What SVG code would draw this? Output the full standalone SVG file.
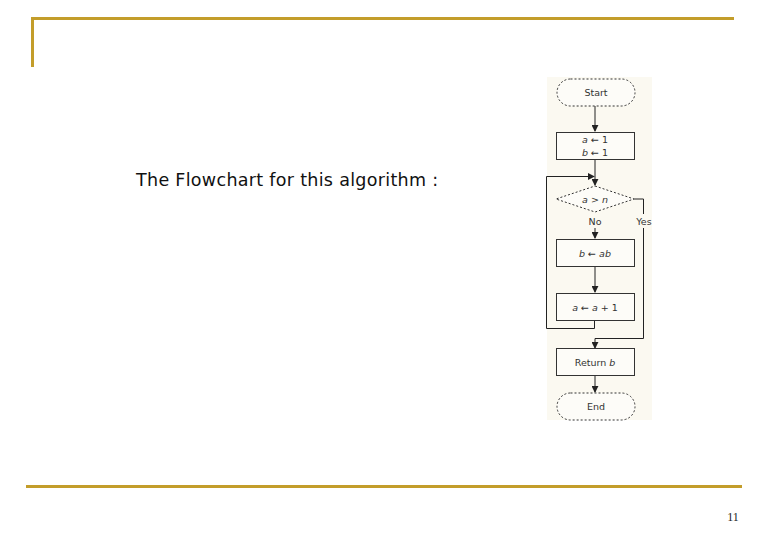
<svg xmlns="http://www.w3.org/2000/svg" width="780" height="540" viewBox="0 0 780 540">
<defs>
<marker id="ah" viewBox="0 0 8 8" refX="7" refY="4" markerWidth="7" markerHeight="7" markerUnits="userSpaceOnUse" orient="auto">
<path d="M0,0 L8,4 L0,8 Z" fill="#222"/>
</marker>
</defs>
<style>
.rule{stroke:#c39d2a;stroke-width:3;fill:none}
.box{fill:#fdfcf8;stroke:#333;stroke-width:1}
.term{fill:#fdfcf8;stroke:#333;stroke-width:1;stroke-dasharray:2 2}
.fc{font-family:"DejaVu Sans",Verdana,sans-serif;font-size:9.5px;fill:#333;text-anchor:middle}
.ln{stroke:#222;stroke-width:1;fill:none}
</style>
<rect width="780" height="540" fill="#ffffff"/>
<g id="frame">
<line class="rule" x1="31" y1="18.5" x2="734" y2="18.5"/>
<line class="rule" x1="32.5" y1="18" x2="32.5" y2="67"/>
<line class="rule" x1="26" y1="486.5" x2="742" y2="486.5"/>
</g>
<text x="136" y="186" font-family="'DejaVu Sans',Verdana,sans-serif" font-size="17.5" letter-spacing="0.3" fill="#111">The Flowchart for this algorithm :</text>
<text x="733" y="521" font-family="'Liberation Serif','Times New Roman',serif" font-size="12" fill="#222" text-anchor="middle">11</text>
<rect x="547" y="77" width="105" height="343" fill="#fbf9f1"/>
<g id="connectors">
<path class="ln" d="M595,106 V131" marker-end="url(#ah)"/>
<path class="ln" d="M595,159 V185" marker-end="url(#ah)"/>
<path class="ln" d="M595,228 V238" marker-end="url(#ah)"/>
<path class="ln" d="M595,266 V292" marker-end="url(#ah)"/>
<path class="ln" d="M594.5,321 V328.5 H546.5 V176.5 H594" marker-end="url(#ah)"/>
<path class="ln" d="M634,199 H643.5 V214"/>
<path class="ln" d="M643.5,228 V338.5 H595 V348" marker-end="url(#ah)"/>
<path class="ln" d="M595,375 V392" marker-end="url(#ah)"/>
<text class="fc" x="595" y="225">No</text>
<text class="fc" x="644" y="225">Yes</text>
</g>
<g id="start">
<rect class="term" x="557" y="79" width="78" height="27" rx="13.5"/>
<text class="fc" x="596" y="95.5">Start</text>
</g>
<g id="init">
<rect class="box" x="556.5" y="132.5" width="78" height="27"/>
<text class="fc" x="595" y="142.5"><tspan font-style="italic">a</tspan> ← 1</text>
<text class="fc" x="595" y="156"><tspan font-style="italic">b</tspan> ← 1</text>
</g>
<g id="decision">
<path class="term" d="M595,186 L634,199 L595,212 L556,199 Z"/>
<text class="fc" x="595" y="202.5"><tspan font-style="italic">a</tspan> &gt; <tspan font-style="italic">n</tspan></text>
</g>
<g id="mult">
<rect class="box" x="556.5" y="239.5" width="78" height="27"/>
<text class="fc" x="595" y="256.5"><tspan font-style="italic">b</tspan> ← <tspan font-style="italic">ab</tspan></text>
</g>
<g id="incr">
<rect class="box" x="556.5" y="293.5" width="78" height="27"/>
<text class="fc" x="595" y="310.5"><tspan font-style="italic">a</tspan> ← <tspan font-style="italic">a</tspan> + 1</text>
</g>
<g id="return">
<rect class="box" x="556.5" y="348.5" width="78" height="27"/>
<text class="fc" x="595" y="365.5">Return <tspan font-style="italic">b</tspan></text>
</g>
<g id="end">
<rect class="term" x="557" y="393" width="78" height="27" rx="13.5"/>
<text class="fc" x="596" y="410">End</text>
</g>
</svg>
